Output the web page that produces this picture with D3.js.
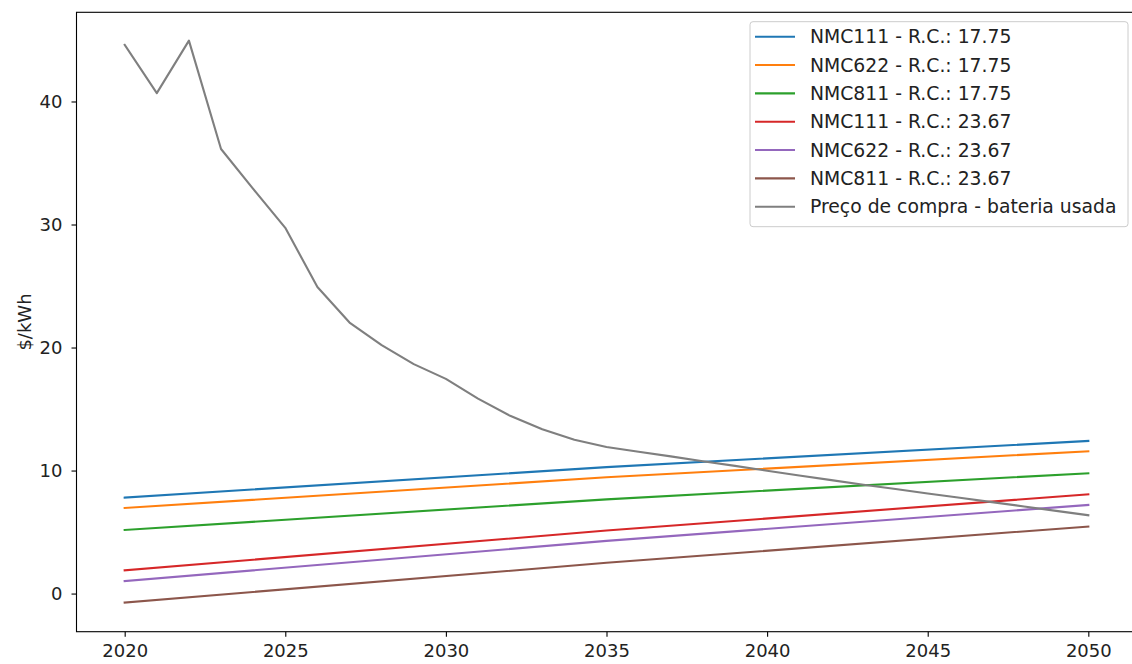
<!DOCTYPE html>
<html>
<head>
<meta charset="utf-8">
<script src="https://cdn.jsdelivr.net/npm/d3@7"></script>
<style>
  html, body { margin: 0; padding: 0; background: #fff; }
  svg { display: block; font-family: "DejaVu Sans", sans-serif; }
</style>
</head>
<body>
<svg id="chart" width="1132" height="664"></svg>
<script>
// Recycling cost projections (R.C. = recycling cost) vs. purchase price of a used battery, $/kWh
const years = d3.range(2020, 2051);

// Straight cost projections, read at 2020, 2035 and 2050
const linearYears = [2020, 2035, 2050];
const nmc111_1775 = [7.80, 10.28, 12.41];
const nmc622_1775 = [6.96, 9.45, 11.57];
const nmc811_1775 = [5.17, 7.66, 9.78];
const nmc111_2367 = [1.89, 5.12, 8.07];
const nmc622_2367 = [1.02, 4.28, 7.20];
const nmc811_2367 = [-0.73, 2.50, 5.45];

// Used battery purchase price, one value per year 2020–2050
const usedPrice = [
  44.60, 40.68, 44.95, 36.14, 32.90, 29.73, 24.92, 22.03, 20.20, 18.65,
  17.45, 15.85, 14.45, 13.35, 12.50, 11.92, 11.53, 11.15, 10.76, 10.38,
  9.99, 9.60, 9.22, 8.85, 8.50, 8.14, 7.79, 7.43, 7.08, 6.72, 6.37
];

const seriesLabels = [
  "NMC111 - R.C.: 17.75",
  "NMC622 - R.C.: 17.75",
  "NMC811 - R.C.: 17.75",
  "NMC111 - R.C.: 23.67",
  "NMC622 - R.C.: 23.67",
  "NMC811 - R.C.: 23.67",
  "Preço de compra - bateria usada"
];
const seriesColors = ["#1f77b4", "#ff7f0e", "#2ca02c", "#d62728", "#9467bd", "#8c564b", "#7f7f7f"];

const xTicks = [2020, 2025, 2030, 2035, 2040, 2045, 2050];
const yTicks = [0, 10, 20, 30, 40];
const yLabel = "$/kWh";

const series = [
  { xs: linearYears, ys: nmc111_1775 },
  { xs: linearYears, ys: nmc622_1775 },
  { xs: linearYears, ys: nmc811_1775 },
  { xs: linearYears, ys: nmc111_2367 },
  { xs: linearYears, ys: nmc622_2367 },
  { xs: linearYears, ys: nmc811_2367 },
  { xs: years, ys: usedPrice }
].map((s, i) => ({
  label: seriesLabels[i],
  color: seriesColors[i],
  points: s.xs.map((x, j) => [x, s.ys[j]])
}));

const svg = d3.select("#chart");
const plot = { left: 76.5, right: 1136.5, top: 12.3, bottom: 631.7 };
const fontSize = "18px";

const x = d3.scaleLinear().domain([2018.5, 2051.5]).range([plot.left, plot.right]);
const y = d3.scaleLinear().domain([-3.1, 47.25]).range([plot.bottom, plot.top]);

// Data lines
const line = d3.line().x(d => x(d[0])).y(d => y(d[1]));
svg.append("g")
  .selectAll("path")
  .data(series)
  .join("path")
  .attr("d", d => line(d.points))
  .attr("fill", "none")
  .attr("stroke", d => d.color)
  .attr("stroke-width", 2.1)
  .attr("stroke-linejoin", "round")
  .attr("stroke-linecap", "square");

// Axes
const xAxis = d3.axisBottom(x).tickValues(xTicks).tickFormat(d3.format("d"))
  .tickSize(5).tickPadding(8);
const yAxis = d3.axisLeft(y).tickValues(yTicks).tickFormat(d3.format("d"))
  .tickSize(5).tickPadding(9);

const gx = svg.append("g").attr("transform", `translate(0,${plot.bottom})`).call(xAxis);
const gy = svg.append("g").attr("transform", `translate(${plot.left},0)`).call(yAxis);
[gx, gy].forEach(g => {
  g.select(".domain").remove();
  g.selectAll(".tick line").attr("stroke", "#000").attr("stroke-width", 1.1);
  g.selectAll(".tick text").attr("fill", "#222").style("font-size", fontSize)
    .style("font-family", "'DejaVu Sans', sans-serif");
});

// Frame (spines)
svg.append("rect")
  .attr("x", plot.left).attr("y", plot.top)
  .attr("width", plot.right - plot.left).attr("height", plot.bottom - plot.top)
  .attr("fill", "none").attr("stroke", "#000").attr("stroke-width", 1.1);

// Y axis title
svg.append("text")
  .attr("transform", `translate(24,${(plot.top + plot.bottom) / 2}) rotate(-90)`)
  .attr("text-anchor", "middle")
  .attr("dominant-baseline", "central")
  .style("font-size", fontSize)
  .attr("fill", "#222")
  .text(yLabel);

// Legend
const legend = { x: 750, y: 21.7, w: 378, h: 205, rowY0: 36.7, rowStep: 28.33 };
svg.append("rect")
  .attr("x", legend.x).attr("y", legend.y)
  .attr("width", legend.w).attr("height", legend.h)
  .attr("rx", 3).attr("ry", 3)
  .attr("fill", "#fff").attr("fill-opacity", 0.8)
  .attr("stroke", "#cccccc").attr("stroke-width", 1);

const rows = svg.append("g")
  .selectAll("g")
  .data(series)
  .join("g")
  .attr("transform", (d, i) => `translate(0,${legend.rowY0 + i * legend.rowStep})`);
rows.append("line")
  .attr("x1", 755).attr("x2", 795)
  .attr("stroke", d => d.color).attr("stroke-width", 2.1);
rows.append("text")
  .attr("x", 810)
  .attr("dy", "0.35em")
  .style("font-size", "18.8px")
  .attr("fill", "#222")
  .text(d => d.label);
</script>
</body>
</html>
